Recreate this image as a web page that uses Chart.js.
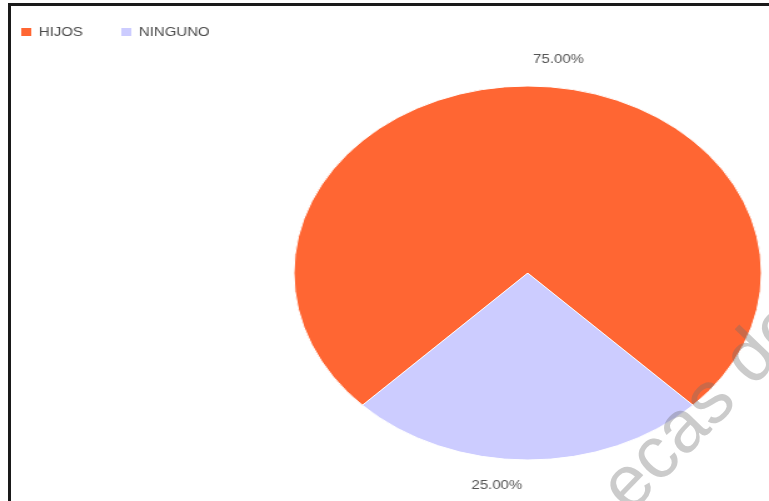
<!DOCTYPE html>
<html>
<head>
<meta charset="utf-8">
<script src="https://cdn.jsdelivr.net/npm/chart.js@4"></script>
<style>
  html, body { margin: 0; padding: 0; background: #fff; overflow: hidden; }
  #wrap { position: relative; width: 769px; height: 501px; overflow: hidden; }
  #frame { position: absolute; left: 8px; top: 3px; right: 0; bottom: 0;
           border-top: 3px solid #1a1a1a; border-left: 3px solid #1a1a1a; }
  #pie { position: absolute; left: 0; top: 0; }
  #mark { position: absolute; left: 0; top: 0; pointer-events: none; }
</style>
</head>
<body>
<div id="wrap">
  <div id="frame"></div>
  <!-- drawn at 615 wide and stretched across the page -->
  <canvas id="pie" width="615" height="501" style="width:769px;height:501px"></canvas>
  <canvas id="mark" width="769" height="501"></canvas>
</div>
<script>
const categories = ['HIJOS', 'NINGUNO'];
const values = [75, 25];
const colors = ['#FF6633', '#CCCCFF'];

// legend drawn by hand in the top-left corner
const legendPlugin = {
  id: 'cornerLegend',
  afterDraw(chart) {
    const ctx = chart.ctx;
    const xs = [17, 97];
    ctx.save();
    ctx.font = '12px Arial, "Liberation Sans", sans-serif';
    ctx.textBaseline = 'middle';
    categories.forEach((name, i) => {
      ctx.fillStyle = colors[i];
      ctx.fillRect(xs[i], 28, 8, 8);
      ctx.fillStyle = '#4a4a4a';
      ctx.fillText(name, xs[i] + 14, 32.5);
    });
    ctx.restore();
  }
};

// percentage labels just outside each slice
const percentPlugin = {
  id: 'percentLabels',
  afterDatasetsDraw(chart) {
    const ctx = chart.ctx;
    const arcs = chart.getDatasetMeta(0).data;
    const total = values.reduce((a, b) => a + b, 0);
    ctx.save();
    ctx.font = '12px Arial, "Liberation Sans", sans-serif';
    ctx.fillStyle = '#555';
    ctx.textAlign = 'center';
    ctx.textBaseline = 'middle';
    arcs.forEach((arc, i) => {
      const mid = (arc.startAngle + arc.endAngle) / 2 + 6.6 * Math.PI / 180;
      const r = arc.outerRadius + 27.5;
      const x = arc.x + Math.cos(mid) * r;
      const y = arc.y + Math.sin(mid) * r;
      ctx.fillText((values[i] / total * 100).toFixed(2) + '%', x, y);
    });
    ctx.restore();
  }
};

new Chart(document.getElementById('pie').getContext('2d'), {
  type: 'pie',
  data: {
    labels: categories,
    datasets: [{
      data: values,
      backgroundColor: colors,
      borderColor: '#ffffff',
      borderWidth: 1
    }]
  },
  options: {
    responsive: false,
    animation: false,
    rotation: 225,
    radius: 187,
    layout: { padding: { top: 86, bottom: 41, left: 235, right: 6 } },
    plugins: {
      legend: { display: false },
      tooltip: { enabled: false }
    }
  },
  plugins: [legendPlugin, percentPlugin]
});

// faint diagonal watermark text
const mctx = document.getElementById('mark').getContext('2d');
mctx.save();
mctx.translate(630, 515);
mctx.rotate(-46 * Math.PI / 180);
mctx.font = '74px Arial, "Liberation Sans", sans-serif';
mctx.lineWidth = 2;
mctx.fillStyle = 'rgba(110, 110, 110, 0.36)';
mctx.strokeStyle = 'rgba(110, 110, 110, 0.36)';
mctx.fillText('ecas de', 0, 0);
mctx.restore();
</script>
</body>
</html>
